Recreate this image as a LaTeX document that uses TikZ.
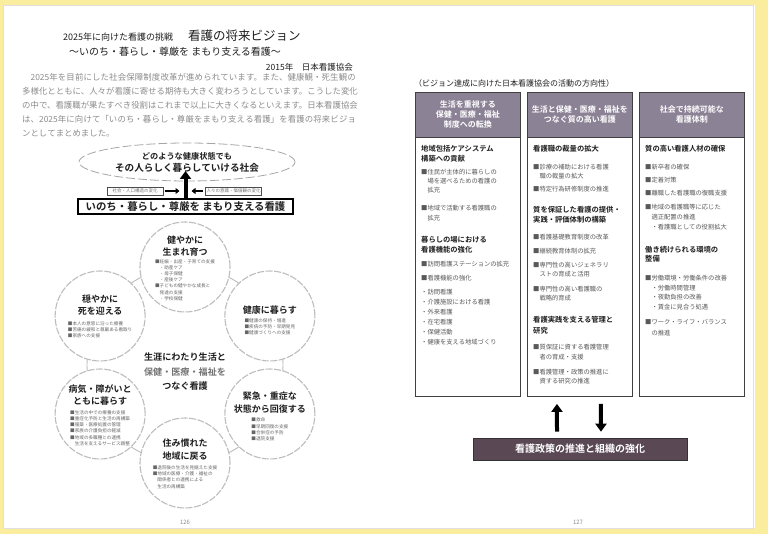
\documentclass[tikz,border=0pt]{standalone}
\usepackage{fontspec}
\setmainfont{Noto Sans CJK JP}[BoldFont={Noto Sans CJK JP Bold}]
\usetikzlibrary{positioning,arrows.meta,shapes.geometric}
\XeTeXlinebreaklocale "ja"
\XeTeXlinebreakskip=0pt plus 1pt
\definecolor{scanyellow}{HTML}{FAEE9E}
\definecolor{hdrgray}{HTML}{8C8296}
\definecolor{barplum}{HTML}{5A4855}
\definecolor{ink}{HTML}{1E1E1E}
\definecolor{faded}{HTML}{8C8C8C}
\definecolor{ringgray}{HTML}{BDBDBD}
\newcommand{\fsz}[2]{\fontsize{#1pt}{#2pt}\selectfont}
\tikzset{
  lifecircle/.style={circle,minimum size=90pt,inner sep=0,fill=white,draw=ringgray,
    line width=1.1pt,dash pattern=on 7pt off 1.5pt},
  circtitle/.style={align=center,inner sep=0,font=\fsz{9}{12.5}\bfseries,text=ink},
  circitem/.style={align=left,inner sep=0,font=\fsz{4.6}{6.2},text=black!60},
  fatarrow/.style={draw=black,line width=4pt,-{Triangle[width=11pt,length=8pt]}},
  thinarrow/.style={draw=black,line width=2.6pt,-{Triangle[width=6pt,length=4pt]}},
  chgbox/.style={draw=black!70,line width=0.6pt,minimum width=56pt,minimum height=8pt,
    inner sep=0,font=\fsz{4.5}{4.5},text=black!55},
  colbox/.style={draw=black!75,line width=0.9pt,minimum width=105pt,minimum height=304pt,
    inner sep=0,anchor=north west},
  hdrbox/.style={fill=hdrgray,draw=black!75,line width=0.9pt,minimum width=105pt,
    minimum height=45pt,inner sep=0,anchor=north,align=center,text=white,
    font=\fsz{8}{10}\bfseries},
  colhead/.style={anchor=west,inner sep=0,font=\fsz{7.3}{9}\bfseries,text=ink},
  colitem/.style={anchor=west,inner sep=0,font=\fsz{6.3}{8},text=black!65},
}
\begin{document}
\begin{tikzpicture}[x=1pt,y=-1pt]
\useasboundingbox (0,0) rectangle (768,534);
\fill[scanyellow] (0,0) rectangle (768,534);
\fill[white] (3,5) rectangle (755,528);
\draw[black!12,line width=0.6pt] (3,5) rectangle (753,528);

% left page: the vision
\node[anchor=west,inner sep=0,font=\fsz{9}{9},text=ink] (year) at (63,37) {2025年に向けた看護の挑戦};
\node[anchor=west,inner sep=0,font=\fsz{12.5}{12.5},text=ink] (title) at (188,36) {看護の将来ビジョン};
\node[inner sep=0,font=\fsz{10}{10},text=ink] (motto) at (175,52) {〜いのち・暮らし・尊厳を まもり支える看護〜};
\node[anchor=east,inner sep=0,font=\fsz{8.5}{8.5},text=ink] (jna) at (353,67) {2015年　日本看護協会};
\node[anchor=north west,inner sep=0,text width=336pt,font=\fsz{8.4}{13.8},text=faded] (intro) at (22,73.5)
  {\hspace*{1em}2025年を目前にした社会保障制度改革が進められています。また、健康観・死生観の多様化とともに、人々が看護に寄せる期待も大きく変わろうとしています。こうした変化の中で、看護職が果たすべき役割はこれまで以上に大きくなるといえます。日本看護協会は、2025年に向けて「いのち・暮らし・尊厳をまもり支える看護」を看護の将来ビジョンとしてまとめました。};

\node[ellipse,minimum width=216pt,minimum height=38pt,inner sep=0,draw=black!35,line width=0.8pt,
  dash pattern=on 9pt off 3pt,align=center,font=\fsz{8.2}{12}\bfseries,text=ink] (society) at (187,162)
  {どのような健康状態でも\\{\fsz{9.6}{12}その人らしく暮らしていける社会}};
\node[draw=black,line width=1.2pt,minimum width=215pt,minimum height=15pt,inner sep=0,
  font=\fsz{10.4}{10.4}\bfseries,text=ink] (vision) at (185.5,206.5) {いのち・暮らし・尊厳を まもり支える看護};
\coordinate (goal) at ([yshift=-9pt]society.center);
\draw[fatarrow] (vision.north) -- (vision.north |- goal);
\node[chgbox] (chgL) at (135,191) {社会・人口構造の変化};
\node[chgbox] (chgR) at (233.5,191) {人々の意識・価値観の変化};
\coordinate (shaftL) at (179.5,191);
\coordinate (shaftR) at (191.5,191);
\draw[thinarrow] ([xshift=2pt]chgL.east) -- (shaftL);
\draw[thinarrow] ([xshift=-2pt]chgR.west) -- (shaftR);

% six scenes of life round the hub
\coordinate (hub) at (185,365);
\draw[ringgray,line width=0.9pt] (hub) circle[radius=98];
\foreach \n/\a in {born/-90,healthy/-30,acute/30,home/90,chronic/150,peace/210}
  \path (hub) ++(\a:98) node[lifecircle] (\n) {};
\node[circtitle] (born-t) at ([yshift=21pt]born.center) {健やかに\\生まれ育つ};
\node[circitem] (born-i) at ([yshift=-13pt]born.center)
  {■妊娠・出産・子育ての支援\\　・助産ケア\\　・母子保健\\　・産後ケア\\■子どもの健やかな成長と\\　発達の支援\\　・学校保健};
\node[circtitle] (healthy-t) at ([yshift=6pt]healthy.center) {健康に暮らす};
\node[circitem] (healthy-i) at ([yshift=-11pt]healthy.center)
  {■健康の保持・増進\\■疾病の予防・早期発見\\■健康づくりへの支援};
\node[circtitle] (acute-t) at ([yshift=11.5pt]acute.center) {緊急・重症な\\状態から回復する};
\node[circitem] (acute-i) at ([yshift=-15.5pt]acute.center)
  {■救命\\■早期回復の支援\\■合併症の予防\\■退院支援};
\node[circtitle] (home-t) at ([yshift=13.5pt]home.center) {住み慣れた\\地域に戻る};
\node[circitem] (home-i) at ([yshift=-14pt]home.center)
  {■退院後の生活を見据えた支援\\■地域の医療・介護・福祉の\\　関係者との連携による\\　生活の再構築};
\node[circtitle] (chronic-t) at ([yshift=19pt]chronic.center) {病気・障がいと\\ともに暮らす};
\node[circitem] (chronic-i) at ([yshift=-14pt]chronic.center)
  {■生活の中での療養の支援\\■重症化予防と生活の再構築\\■服薬・医療処置の管理\\■家族の介護負担の軽減\\■地域の多職種との連携\\　生活を支えるサービス調整};
\node[circtitle] (peace-t) at ([yshift=11pt]peace.center) {穏やかに\\死を迎える};
\node[circitem] (peace-i) at ([yshift=-14pt]peace.center)
  {■本人の意思に沿った療養\\■苦痛の緩和と尊厳ある看取り\\■家族への支援};
\node[align=center,inner sep=0,font=\fsz{9.1}{14.5}\bfseries,text=ink] (core) at ([yshift=-7pt]hub)
  {生涯にわたり生活と\\{\color{black!55}保健・医療・福祉を}\\つなぐ看護};
\node[inner sep=0,font=\fsz{6}{6},text=black!45] (pgL) at (185,522) {126};

% right page: directions of activity
\node[anchor=west,inner sep=0,font=\fsz{8}{8},text=ink] (caption) at (414,83)
  {（ビジョン達成に向けた日本看護協会の活動の方向性）};
\foreach \k/\x in {1/415,2/527,3/639}
  \node[colbox] (col\k) at (\x,92) {};
\node[hdrbox] (hdr1) at (col1.north) {生活を重視する\\保健・医療・福祉\\制度への転換};
\node[hdrbox] (hdr2) at (col2.north) {生活と保健・医療・福祉を\\つなぐ質の高い看護};
\node[hdrbox] (hdr3) at (col3.north) {社会で持続可能な\\看護体制};

\foreach \y/\t [count=\k] in {149/地域包括ケアシステム,159/構築への貢献,240/暮らしの場における,250/看護機能の強化}
  \node[colhead] (p1h\k) at (421,\y) {\t};
\foreach \y/\t [count=\k] in {172/■住民が主体的に暮らしの,181/　場を選べるための看護の,190/　拡充,
    208/■地域で活動する看護職の,218/　拡充,264/■訪問看護ステーションの拡充,278/■看護機能の強化,
    292/・訪問看護,302/・介護施設における看護,312/・外来看護,322/・在宅看護,332/・保健活動,342/・健康を支える地域づくり}
  \node[colitem] (p1i\k) at (421,\y) {\t};

\foreach \y/\t [count=\k] in {149/看護職の裁量の拡大,210/質を保証した看護の提供・,220/実践・評価体制の構築,320/看護実践を支える管理と,331/研究}
  \node[colhead] (p2h\k) at (533,\y) {\t};
\foreach \y/\t [count=\k] in {167/■診療の補助における看護,176/　職の裁量の拡大,189/■特定行為研修制度の推進,
    237/■看護基礎教育制度の改革,251/■継続教育体制の拡充,265/■専門性の高いジェネラリ,274/　ストの育成と活用,
    289/■専門性の高い看護職の,298/　戦略的育成,347/■質保証に資する看護管理,357/　者の育成・支援,
    372/■看護管理・政策の推進に,381/　資する研究の推進}
  \node[colitem] (p2i\k) at (533,\y) {\t};

\foreach \y/\t [count=\k] in {149/質の高い看護人材の確保,250/働き続けられる環境の,259/整備}
  \node[colhead] (p3h\k) at (645,\y) {\t};
\foreach \y/\t [count=\k] in {167/■新卒者の確保,180/■定着対策,193/■離職した看護職の復職支援,
    207/■地域の看護職等に応じた,217/　適正配置の推進,227/　・看護職としての役割拡大,
    278/■労働環境・労働条件の改善,288/　・労働時間管理,297/　・夜勤負担の改善,307/　・賃金に見合う処遇,
    322/■ワーク・ライフ・バランス,333/　の推進}
  \node[colitem] (p3i\k) at (645,\y) {\t};

\node[fill=barplum,draw=black!80,line width=0.6pt,minimum width=214pt,minimum height=22pt,inner sep=0,
  font=\fsz{10}{10}\bfseries,text=white] (policy) at (580,449) {看護政策の推進と組織の強化};
\draw[fatarrow] ([xshift=-23pt,yshift=6pt]policy.north) -- ([xshift=-23pt,yshift=-7pt]col2.south);
\draw[fatarrow] ([xshift=21pt,yshift=-7pt]col2.south) -- ([xshift=21pt,yshift=6pt]policy.north);
\node[inner sep=0,font=\fsz{6}{6},text=black!45] (pgR) at (578,522) {127};
\end{tikzpicture}
\end{document}
